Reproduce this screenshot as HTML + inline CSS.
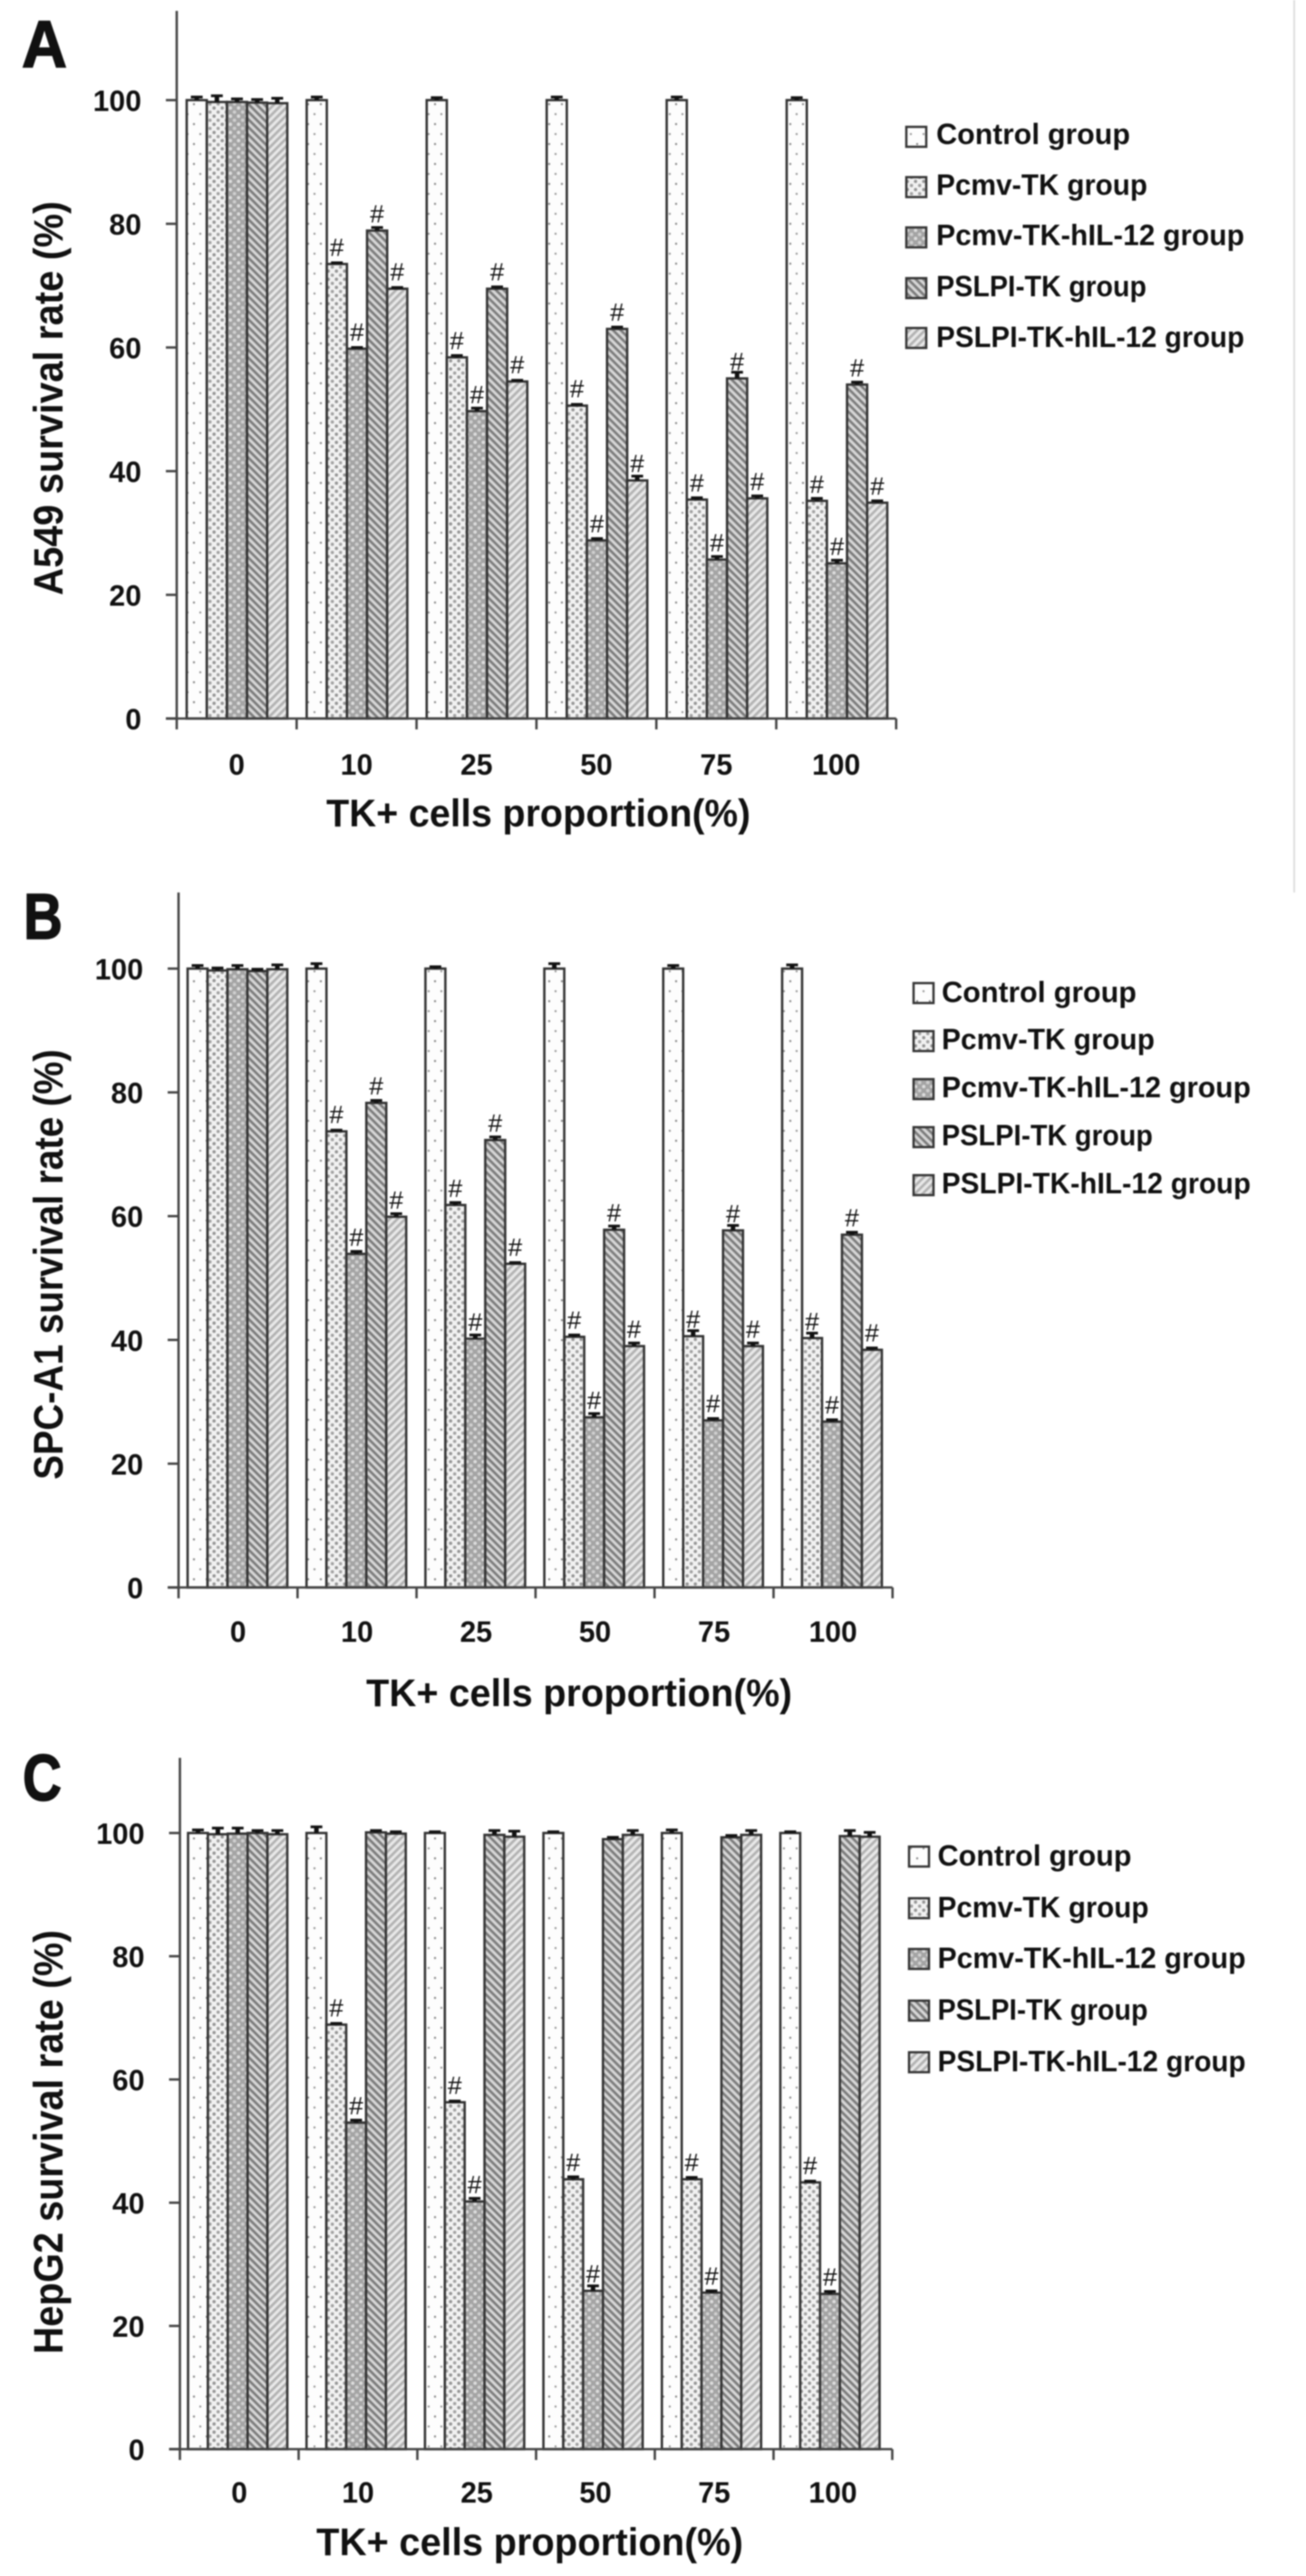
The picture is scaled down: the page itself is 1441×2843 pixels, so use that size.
<!DOCTYPE html>
<html lang="en">
<head>
<meta charset="utf-8">
<title>Survival rate by TK+ cells proportion</title>
<style>
html,body{margin:0;padding:0;background:#fff;}
svg{display:block;filter:blur(0.7px);}
text{font-family:"Liberation Sans",sans-serif;fill:#111;}
.b{font-weight:700;}
.big{font-weight:700;stroke:#111;stroke-width:1.5px;}
</style>
</head>
<body>
<svg id="chart" xmlns="http://www.w3.org/2000/svg" width="1441" height="2843" viewBox="0 0 1441 2843">
  <defs>
    <pattern id="p-control" patternUnits="userSpaceOnUse" width="14" height="22">
      <rect width="14" height="22" fill="#fdfdfd"/>
      <circle cx="4" cy="5" r="1.2" fill="#888"/>
      <circle cx="11" cy="16" r="1.2" fill="#999"/>
    </pattern>
    <pattern id="p-pcmv" patternUnits="userSpaceOnUse" width="9" height="9">
      <rect width="9" height="9" fill="#f1f1f1"/>
      <circle cx="2.2" cy="2.2" r="1.8" fill="#959595"/>
      <circle cx="6.7" cy="6.7" r="1.8" fill="#a2a2a2"/>
    </pattern>
    <pattern id="p-pcmv-il" patternUnits="userSpaceOnUse" width="9" height="9">
      <rect width="9" height="9" fill="#a4a4a4"/>
      <circle cx="2.2" cy="2.2" r="1.9" fill="#dcdcdc"/>
      <circle cx="6.7" cy="6.7" r="1.9" fill="#cfcfcf"/>
    </pattern>
    <pattern id="p-pslpi" patternUnits="userSpaceOnUse" width="6" height="6" patternTransform="rotate(45)">
      <rect width="6" height="6" fill="#d6d6d6"/>
      <rect width="6" height="2.8" fill="#7c7c7c"/>
    </pattern>
    <pattern id="p-pslpi-il" patternUnits="userSpaceOnUse" width="6" height="6" patternTransform="rotate(-45)">
      <rect width="6" height="6" fill="#e8e8e8"/>
      <rect width="6" height="2.8" fill="#b2b2b2"/>
    </pattern>
  </defs>
  <rect width="1441" height="2843" fill="#fff"/>
  <rect x="1427" y="0" width="2" height="985" fill="#dedede"/>

  <text class="big" x="24" y="74" font-size="73" textLength="50" lengthAdjust="spacingAndGlyphs">A</text>
  <text class="big" x="26" y="1036" font-size="71" textLength="43" lengthAdjust="spacingAndGlyphs">B</text>
  <text class="big" x="25" y="1987" font-size="72" textLength="43" lengthAdjust="spacingAndGlyphs">C</text>

  <text class="b" font-size="45" transform="translate(69,657) rotate(-90)" textLength="435" lengthAdjust="spacingAndGlyphs">A549 survival rate (%)</text>
  <text class="b" font-size="45" transform="translate(69,1633) rotate(-90)" textLength="475" lengthAdjust="spacingAndGlyphs">SPC-A1 survival rate (%)</text>
  <text class="b" font-size="45" transform="translate(69,2598) rotate(-90)" textLength="468" lengthAdjust="spacingAndGlyphs">HepG2 survival rate (%)</text>

  <text class="b" x="360" y="912" font-size="43" textLength="468" lengthAdjust="spacingAndGlyphs">TK+ cells proportion(%)</text>
  <text class="b" x="404" y="1883" font-size="43" textLength="470" lengthAdjust="spacingAndGlyphs">TK+ cells proportion(%)</text>
  <text class="b" x="349" y="2820" font-size="43" textLength="471" lengthAdjust="spacingAndGlyphs">TK+ cells proportion(%)</text>

  <g stroke-linejoin="miter">
    <g><rect x="1000" y="140" width="22" height="22" fill="url(#p-control)" stroke="#333" stroke-width="2.5"/><text class="b" x="1033" y="159" font-size="32" textLength="214" lengthAdjust="spacingAndGlyphs">Control group</text></g>
    <g><rect x="1000" y="195.5" width="22" height="22" fill="url(#p-pcmv)" stroke="#333" stroke-width="2.5"/><text class="b" x="1033" y="215" font-size="32" textLength="233" lengthAdjust="spacingAndGlyphs">Pcmv-TK group</text></g>
    <g><rect x="1000" y="251" width="22" height="22" fill="url(#p-pcmv-il)" stroke="#333" stroke-width="2.5"/><text class="b" x="1033" y="270.500" font-size="32" textLength="340" lengthAdjust="spacingAndGlyphs">Pcmv-TK-hIL-12 group</text></g>
    <g><rect x="1000" y="307" width="22" height="22" fill="url(#p-pslpi)" stroke="#333" stroke-width="2.5"/><text class="b" x="1033" y="327" font-size="32" textLength="232" lengthAdjust="spacingAndGlyphs">PSLPI-TK group</text></g>
    <g><rect x="1000" y="362" width="22" height="22" fill="url(#p-pslpi-il)" stroke="#333" stroke-width="2.5"/><text class="b" x="1033" y="383" font-size="32" textLength="340" lengthAdjust="spacingAndGlyphs">PSLPI-TK-hIL-12 group</text></g>
  </g>
  <g>
    <g><rect x="1008" y="1085" width="22" height="22" fill="url(#p-control)" stroke="#333" stroke-width="2.5"/><text class="b" x="1039" y="1106" font-size="32" textLength="215" lengthAdjust="spacingAndGlyphs">Control group</text></g>
    <g><rect x="1008" y="1138" width="22" height="22" fill="url(#p-pcmv)" stroke="#333" stroke-width="2.5"/><text class="b" x="1039" y="1158" font-size="32" textLength="235" lengthAdjust="spacingAndGlyphs">Pcmv-TK group</text></g>
    <g><rect x="1008" y="1191" width="22" height="22" fill="url(#p-pcmv-il)" stroke="#333" stroke-width="2.5"/><text class="b" x="1039" y="1211" font-size="32" textLength="341" lengthAdjust="spacingAndGlyphs">Pcmv-TK-hIL-12 group</text></g>
    <g><rect x="1008" y="1244" width="22" height="22" fill="url(#p-pslpi)" stroke="#333" stroke-width="2.5"/><text class="b" x="1039" y="1264" font-size="32" textLength="233" lengthAdjust="spacingAndGlyphs">PSLPI-TK group</text></g>
    <g><rect x="1008" y="1297" width="22" height="22" fill="url(#p-pslpi-il)" stroke="#333" stroke-width="2.5"/><text class="b" x="1039" y="1317" font-size="32" textLength="341" lengthAdjust="spacingAndGlyphs">PSLPI-TK-hIL-12 group</text></g>
  </g>
  <g>
    <g><rect x="1003" y="2038" width="22" height="22" fill="url(#p-control)" stroke="#333" stroke-width="2.5"/><text class="b" x="1034.500" y="2059" font-size="32" textLength="214" lengthAdjust="spacingAndGlyphs">Control group</text></g>
    <g><rect x="1003" y="2095" width="22" height="22" fill="url(#p-pcmv)" stroke="#333" stroke-width="2.5"/><text class="b" x="1034.500" y="2116" font-size="32" textLength="233" lengthAdjust="spacingAndGlyphs">Pcmv-TK group</text></g>
    <g><rect x="1003" y="2151" width="22" height="22" fill="url(#p-pcmv-il)" stroke="#333" stroke-width="2.5"/><text class="b" x="1034.500" y="2172" font-size="32" textLength="340" lengthAdjust="spacingAndGlyphs">Pcmv-TK-hIL-12 group</text></g>
    <g><rect x="1003" y="2208" width="22" height="22" fill="url(#p-pslpi)" stroke="#333" stroke-width="2.5"/><text class="b" x="1034.500" y="2229" font-size="32" textLength="232" lengthAdjust="spacingAndGlyphs">PSLPI-TK group</text></g>
    <g><rect x="1003" y="2265" width="22" height="22" fill="url(#p-pslpi-il)" stroke="#333" stroke-width="2.5"/><text class="b" x="1034.500" y="2286" font-size="32" textLength="340" lengthAdjust="spacingAndGlyphs">PSLPI-TK-hIL-12 group</text></g>
  </g>
</svg>
<script>
// ---- chart data ----
const categories = ["0", "10", "25", "50", "75", "100"];
const yTickLabels = [0, 20, 40, 60, 80, 100];
const seriesKeys = ["control", "pcmv-tk", "pcmv-tk-hil12", "pslpi-tk", "pslpi-tk-hil12"];

const a549Control = [100, 100, 100, 100, 100, 100];
const a549Pcmv    = [99.7, 73.5, 58.4, 50.6, 35.4, 35.2];
const a549PcmvIl  = [99.7, 59.8, 49.7, 28.8, 25.7, 25.1];
const a549Pslpi   = [99.6, 78.9, 69.5, 63.0, 55.0, 54.0];
const a549PslpiIl = [99.5, 69.5, 54.5, 38.5, 35.6, 34.9];
const a549Err = [
  [0.5, 0.5, 0.4, 0.5, 0.5, 0.4],
  [1.0, 0.2, 0.3, 0.2, 0.3, 0.4],
  [0.5, 0.2, 0.5, 0.3, 0.5, 0.5],
  [0.5, 0.5, 0.3, 0.3, 1.0, 0.4],
  [0.8, 0.2, 0.2, 0.7, 0.4, 0.3]
];
const spcControl = [100, 100, 100, 100, 100, 100];
const spcPcmv    = [99.7, 73.7, 61.8, 40.5, 40.6, 40.3];
const spcPcmvIl  = [99.9, 53.9, 40.2, 27.5, 27.0, 26.8];
const spcPslpi   = [99.6, 78.3, 72.3, 57.8, 57.7, 57.0];
const spcPslpiIl = [99.9, 59.9, 52.3, 39.0, 39.0, 38.4];
const spcErr = [
  [0.5, 0.8, 0.3, 0.8, 0.5, 0.6],
  [0.4, 0.2, 0.4, 0.3, 0.9, 0.8],
  [0.6, 0.4, 0.6, 0.6, 0.3, 0.3],
  [0.3, 0.4, 0.5, 0.6, 0.8, 0.4],
  [0.7, 0.5, 0.2, 0.5, 0.5, 0.3]
];
const hepControl = [100, 100, 100, 100, 100, 100];
const hepPcmv    = [99.8, 68.9, 56.3, 43.8, 43.8, 43.3];
const hepPcmvIl  = [99.9, 53.0, 40.2, 25.7, 25.4, 25.2];
const hepPslpi   = [100, 100.1, 99.7, 99.0, 99.3, 99.5];
const hepPslpiIl = [99.8, 99.9, 99.4, 99.7, 99.7, 99.4];
const hepErr = [
  [0.5, 1.0, 0.2, 0.2, 0.5, 0.2],
  [1.0, 0.2, 0.2, 0.4, 0.3, 0.2],
  [0.9, 0.4, 0.5, 0.8, 0.3, 0.4],
  [0.4, 0.3, 0.7, 0.3, 0.3, 0.9],
  [0.6, 0.3, 0.9, 0.7, 0.7, 0.7]
];
const a549Series = [a549Control, a549Pcmv, a549PcmvIl, a549Pslpi, a549PslpiIl];
const spcSeries = [spcControl, spcPcmv, spcPcmvIl, spcPslpi, spcPslpiIl];
const hepSeries = [hepControl, hepPcmv, hepPcmvIl, hepPslpi, hepPslpiIl];
// which series carry a # marker (from the second category on)
const a549Marked = [1, 2, 3, 4];
const spcMarked = [1, 2, 3, 4];
const hepMarked = [1, 2];

// ---- layout ----
const fills = ["p-control", "p-pcmv", "p-pcmv-il", "p-pslpi", "p-pslpi-il"];
const panels = [
  {id: "a", series: a549Series, err: a549Err, marked: a549Marked, axisX: 195, tickStep: 132.3, barX0: 206, pitch: 132.4, barW: 22.2, y0: 793, unit: 6.825, top: 12, xBase: 855},
  {id: "b", series: spcSeries, err: spcErr, marked: spcMarked, axisX: 197, tickStep: 131.3, barX0: 207, pitch: 131.2, barW: 22, y0: 1752, unit: 6.83, top: 985, xBase: 1812},
  {id: "c", series: hepSeries, err: hepErr, marked: hepMarked, axisX: 198.5, tickStep: 131, barX0: 207.5, pitch: 130.7, barW: 21.9, y0: 2703, unit: 6.8, top: 1940, xBase: 2762}
];

const NS = "http://www.w3.org/2000/svg";
const root = document.getElementById("chart");
function make(tag, attrs, parent) {
  const node = document.createElementNS(NS, tag);
  for (const k in attrs) node.setAttribute(k, attrs[k]);
  parent.appendChild(node);
  return node;
}

panels.forEach(function (p) {
  const yScale = function (v) { return p.y0 - v * p.unit; };
  const barX = function (g, s) { return p.barX0 + g * p.pitch + s * p.barW; };
  const tickX = function (g) { return p.axisX + g * p.tickStep; };

  const panel = make("g", {}, root);
  
  

  // bars, error bars, markers
  p.series.forEach(function (values, s) {
    const group = make("g", {}, panel);
    
    
    values.forEach(function (v, g) {
      const top = yScale(v);
      const bar = make("rect", {x: barX(g, s), y: top, width: p.barW, height: p.y0 - top, fill: "url(#" + fills[s] + ")", stroke: "#333", "stroke-width": 2.6}, group);
      
      

      const cx = barX(g, s) + p.barW / 2;
      const capY = yScale(v + p.err[s][g]);
      const stem = make("line", {x1: cx, x2: cx, y1: top, y2: capY, stroke: "#111", "stroke-width": 5}, group);
      
      
      const cap = make("line", {x1: cx - 6.5, x2: cx + 6.5, y1: capY, y2: capY, stroke: "#111", "stroke-width": 3}, group);
      
      

      if (g > 0 && p.marked.indexOf(s) >= 0) {
        const mark = make("text", {x: cx, y: top - 9, "font-size": 28, "text-anchor": "middle", fill: "#111"}, group);
        mark.textContent = "#";
        
        
      }
    });
  });

  // y axis
  const yAxis = make("line", {x1: p.axisX, x2: p.axisX, y1: p.top, y2: p.y0 + 12, stroke: "#444", "stroke-width": 2.6}, panel);
  
  
  yTickLabels.forEach(function (t) {
    const tick = make("line", {x1: p.axisX - 12, x2: p.axisX, y1: yScale(t), y2: yScale(t), stroke: "#444", "stroke-width": 2.6}, panel);
    
    
    const lab = make("text", {x: p.axisX - 39, y: yScale(t) + 12, "font-size": 32, "font-weight": 700, "text-anchor": "end"}, panel);
    lab.textContent = t;
    
    
  });

  // x axis
  const xAxis = make("line", {x1: p.axisX - 12, x2: tickX(categories.length), y1: p.y0, y2: p.y0, stroke: "#444", "stroke-width": 2.6}, panel);
  
  
  for (let g = 1; g <= categories.length; g++) {
    const tick = make("line", {x1: tickX(g), x2: tickX(g), y1: p.y0, y2: p.y0 + 12, stroke: "#444", "stroke-width": 2.6}, panel);
    
    
  }
  categories.forEach(function (c, g) {
    const lab = make("text", {x: tickX(g) + p.tickStep / 2, y: p.xBase, "font-size": 32, "font-weight": 700, "text-anchor": "middle"}, panel);
    lab.textContent = c;
    
    
  });
});
</script>
</body>
</html>
